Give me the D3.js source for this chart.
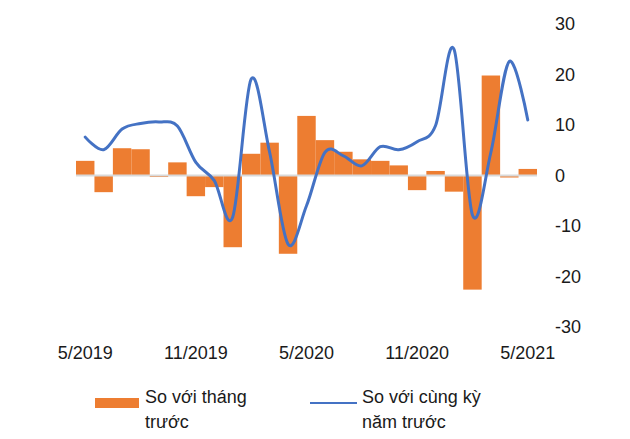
<!DOCTYPE html>
<html>
<head>
<meta charset="utf-8">
<script src="https://cdn.jsdelivr.net/npm/d3@7"></script>
<style>
  body { margin: 0; background: #fff; }
  text { font-family: "Liberation Sans", Arial, sans-serif; }
</style>
</head>
<body>
<svg></svg>
<script>
// months 5/2019 .. 5/2021
let months = ['5/2019','6/2019','7/2019','8/2019','9/2019','10/2019','11/2019','12/2019',
              '1/2020','2/2020','3/2020','4/2020','5/2020','6/2020','7/2020','8/2020',
              '9/2020','10/2020','11/2020','12/2020','1/2021','2/2021','3/2021','4/2021','5/2021']
// so voi thang truoc (bars)
let momValues = [2.9, -3.3, 5.4, 5.2, -0.3, 2.6, -4.1, -2.3, -14.2, 4.3, 6.5, -15.5, 11.8,
                 7.0, 4.7, 3.2, 2.9, 2.0, -2.9, 0.9, -3.2, -22.6, 19.8, -0.4, 1.3]
// so voi cung ky nam truoc (line)
let yoyValues = [7.6, 5.1, 9.2, 10.3, 10.6, 9.8, 2.6, -1.0, -8.2, 19.1, 4.6, -13.6, -6.0,
                 4.6, 3.9, 1.9, 5.7, 5.1, 6.7, 9.9, 25.0, -7.8, 4.6, 22.6, 11.0]
let tickLabels = ['5/2019', '11/2019', '5/2020', '11/2020', '5/2021']
let yTicks = [30, 20, 10, 0, -10, -20, -30]

let width = 630,
    height = 439;

let svg = d3.select('svg')
            .attr('width', width)
            .attr('height', height)

//x scale
let xScale = d3.scaleBand()
      .domain(months)
      .range([76, 537])
      .padding(0)

//y scale
let yScale = d3.scaleLinear()
      .domain([-30, 30])
      .range([327, 24])

// bars
svg.selectAll('rect.bar')
   .data(months)
   .enter()
   .append('rect')
   .attr('class', 'bar')
   .attr('x', d => xScale(d))
   .attr('width', xScale.bandwidth())
   .attr('y', (d, i) => yScale(Math.max(0, momValues[i])))
   .attr('height', (d, i) => Math.abs(yScale(momValues[i]) - yScale(0)))
   .attr('fill', '#ED7D31')

// zero line
svg.append('line')
   .attr('x1', 76).attr('x2', 537)
   .attr('y1', yScale(0)).attr('y2', yScale(0))
   .attr('stroke', '#d9d9d9')
   .attr('stroke-width', 2)

// line
let line = d3.line()
      .x((d, i) => xScale(months[i]) + xScale.bandwidth() / 2)
      .y(d => yScale(d))
      .curve(d3.curveCardinal.tension(0))

svg.append('path')
   .datum(yoyValues)
   .attr('d', line)
   .attr('fill', 'none')
   .attr('stroke', '#4472C4')
   .attr('stroke-width', 3)
   .attr('stroke-linecap', 'round')

// right axis
let yAxis = d3.axisRight(yScale)
      .tickValues(yTicks)
      .tickFormat(d => String(d))
      .tickSize(0)
      .tickPadding(0)

let gy = svg.append('g')
   .attr('transform', 'translate(555,0)')
   .call(yAxis)
gy.select('.domain').remove()
gy.selectAll('text')
  .style('font-size', '18px')
  .attr('fill', '#1a1a1a')
  .attr('font-family', '"Liberation Sans", Arial, sans-serif')

// bottom axis
let xAxis = d3.axisBottom(xScale)
      .tickValues(tickLabels)
      .tickSize(0)
      .tickPadding(0)

let gx = svg.append('g')
   .attr('transform', 'translate(0,346)')
   .call(xAxis)
gx.select('.domain').remove()
gx.selectAll('text')
  .style('font-size', '18px')
  .attr('fill', '#1a1a1a')
  .attr('font-family', '"Liberation Sans", Arial, sans-serif')

// legend
svg.append('rect')
   .attr('x', 95).attr('y', 398)
   .attr('width', 44).attr('height', 10)
   .attr('fill', '#ED7D31')

svg.append('line')
   .attr('x1', 310).attr('x2', 357)
   .attr('y1', 403).attr('y2', 403)
   .attr('stroke', '#4472C4')
   .attr('stroke-width', 2)

let legendText = [
  {x: 145, lines: ['So với tháng', 'trước']},
  {x: 362, lines: ['So với cùng kỳ', 'năm trước']}
]
legendText.forEach(l => {
  l.lines.forEach((t, j) => {
    svg.append('text')
       .attr('x', l.x)
       .attr('y', 403 + j * 25)
       .attr('font-size', '18px')
       .attr('fill', '#1a1a1a')
       .text(t)
  })
})
</script>
</body>
</html>
